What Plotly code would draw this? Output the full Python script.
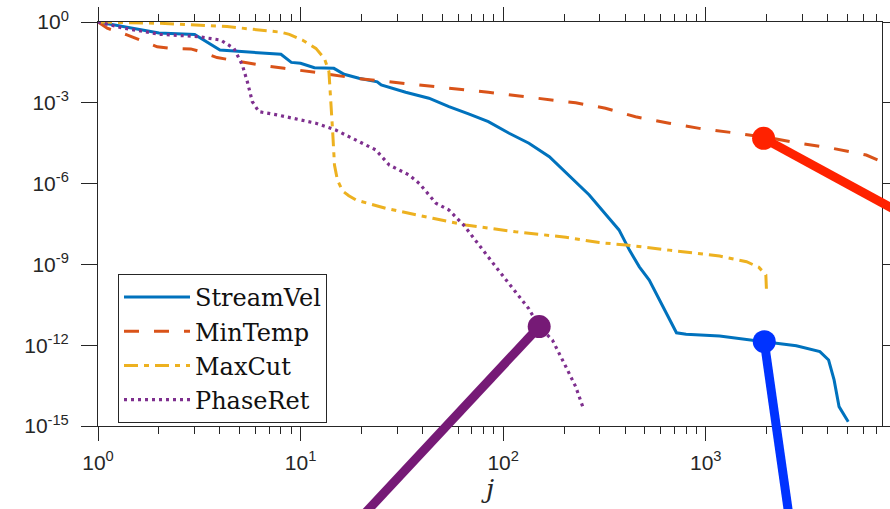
import numpy as np
import plotly.graph_objects as go

# ---------------- data ----------------
stream_x = [1, 2, 3, 4, 8, 9, 10, 11.7, 14.6, 16.4, 19.4, 23.9, 25, 33, 43, 54, 68, 84.5,
            107, 134, 169, 211, 266, 333, 373, 420, 470, 526, 590, 717, 800, 1170, 1945,
            2800, 3660, 4040, 4300, 4550, 5050]
stream_log10y = [0, -0.41, -0.46, -1.04, -1.2, -1.5, -1.53, -1.70, -1.72, -1.94, -2.09, -2.22,
                 -2.34, -2.61, -2.83, -3.14, -3.42, -3.70, -4.13, -4.5, -5.0, -5.68, -6.42,
                 -7.29, -7.72, -8.47, -9.09, -9.58, -10.32, -11.54, -11.59, -11.66, -11.87,
                 -12.02, -12.24, -12.55, -13.29, -14.28, -14.84]

mintemp_x = [1, 1.11, 1.39, 1.62, 1.96, 2.28, 2.87, 3.2, 3.87, 4.86, 6.35, 8.3, 11.9, 18.8,
             27.4, 39.9, 58.5, 84.5, 120, 228, 320, 450, 660, 930, 1360, 1990, 2900, 4230,
             6200, 7600]
mintemp_log10y = [0, -0.23, -0.48, -0.67, -0.92, -0.98, -1.0, -1.1, -1.32, -1.45, -1.6, -1.72,
                  -1.87, -2.09, -2.22, -2.34, -2.46, -2.61, -2.75, -3.0, -3.2, -3.52, -3.76,
                  -3.95, -4.11, -4.28, -4.5, -4.69, -4.94, -5.22]

maxcut_x = [1, 2.04, 4.34, 6.35, 8, 8.8, 10.2, 11.9, 13.1, 13.8, 14.1, 14.4, 14.7, 15.2, 16.1,
            17.3, 18.8, 26.4, 44.9, 65.4, 115, 204, 298, 403, 660, 930, 1170, 1590, 1830,
            1980, 1995]
maxcut_log10y = [0, -0.05, -0.17, -0.3, -0.38, -0.46, -0.67, -0.98, -1.35, -1.84, -2.83, -4.07,
                 -5.31, -5.87, -6.27, -6.45, -6.61, -6.92, -7.29, -7.54, -7.79, -7.99, -8.19,
                 -8.28, -8.47, -8.61, -8.69, -8.9, -9.11, -9.39, -10.01]

phaseret_x = [1, 1.34, 2.04, 3.09, 4.03, 4.69, 5.16, 5.46, 5.78, 6.23, 7.69, 9.3, 11.9, 14.9,
              18.8, 23.5, 27.4, 34.3, 38.6, 46.6, 54, 64, 92, 134, 150, 175, 204, 228, 247]
phaseret_log10y = [0, -0.23, -0.46, -0.54, -0.67, -0.98, -1.6, -2.22, -2.96, -3.33, -3.45,
                   -3.58, -3.76, -4.01, -4.38, -4.75, -5.31, -5.68, -6.0, -6.73, -6.98, -7.55,
                   -9.09, -10.65, -11.3, -11.81, -12.8, -13.54, -14.28]

# thick rate lines drawn over the figure (start point with dot, end far outside)
red_x = [1930, 20000]
red_log10y = [-4.32, -8.47]
blue_x = [1945, 3440]
blue_log10y = [-11.87, -25.0]
purple_x = [150.6, 10]
purple_log10y = [-11.31, -20.8]

series_names = ["StreamVel", "MinTemp", "MaxCut", "PhaseRet"]
x_tickvals = [1, 10, 100, 1000]
x_ticktext = ["10<sup>0</sup>", "10<sup>1</sup>", "10<sup>2</sup>", "10<sup>3</sup>"]
y_exponents = [0, -3, -6, -9, -12, -15]

# ---------------- layout geometry ----------------
W, H = 890, 509
L, R, T, B = 98, 882, 22, 426
x_range = [0, 3.87]
y_range = [-15, 0]
ppdx = (R - L) / (x_range[1] - x_range[0])
ppdy = (B - T) / (y_range[1] - y_range[0])
x2_range = [x_range[0] - L / ppdx, x_range[1] + (W - R) / ppdx]
y2_range = [y_range[0] - (H - B) / ppdy, y_range[1] + T / ppdy]

def pw(a):
    return list(10.0 ** np.array(a, dtype=float))

fig = go.Figure()
styles = [
    ("#0072BD", "solid", 3),
    ("#D95319", "15px,15px", 3),
    ("#EDB120", "14px,6px,5px,6px", 3),
    ("#7E2F8E", "3px,4px", 3.2),
]
data = [(stream_x, stream_log10y), (mintemp_x, mintemp_log10y),
        (maxcut_x, maxcut_log10y), (phaseret_x, phaseret_log10y)]
for (xs, ly), name, (col, dash, w) in zip(data, series_names, styles):
    fig.add_trace(go.Scatter(x=xs, y=pw(ly), mode="lines", name=name,
                             line=dict(color=col, dash=dash, width=w),
                             xaxis="x", yaxis="y"))

for xs, ly, col in [(red_x, red_log10y, "#FF2200"),
                    (blue_x, blue_log10y, "#0033FF"),
                    (purple_x, purple_log10y, "#761A76")]:
    fig.add_trace(go.Scatter(x=xs, y=pw(ly), mode="lines+markers", showlegend=False,
                             line=dict(color=col, width=9),
                             marker=dict(color=col, size=[23, 0], opacity=1,
                                         line=dict(width=0)),
                             xaxis="x2", yaxis="y2", cliponaxis=False))

axcol = "#262626"
tickfont = dict(family="Liberation Sans", size=21, color=axcol)
fig.update_layout(
    width=W, height=H,
    margin=dict(l=0, r=0, t=0, b=0, autoexpand=False),
    paper_bgcolor="white", plot_bgcolor="rgba(0,0,0,0)",
    xaxis=dict(type="log", range=x_range, domain=[L / W, R / W], anchor="y",
               automargin=False,
               showline=True, linecolor=axcol, linewidth=1, mirror="ticks",
               ticks="outside", ticklen=14, tickwidth=1, tickcolor=axcol,
               tickvals=x_tickvals, ticktext=x_ticktext, tickfont=tickfont,
               ticklabelstandoff=4,
               minor=dict(ticks="outside", ticklen=7, tickwidth=1, tickcolor=axcol,
                          dtick="D1", showgrid=False),
               showgrid=False, zeroline=False,
               title=dict(text="<i>j</i>", standoff=4,
                          font=dict(family="DejaVu Serif", size=26, color=axcol))),
    yaxis=dict(type="log", range=y_range, domain=[1 - B / H, 1 - T / H], anchor="x",
               automargin=False,
               showline=True, linecolor=axcol, linewidth=1, mirror="ticks",
               ticks="outside", ticklen=16, tickwidth=1, tickcolor=axcol,
               tickvals=[10.0 ** e for e in y_exponents],
               ticktext=["10<sup>%d</sup>" % e for e in y_exponents],
               tickfont=tickfont, ticklabelstandoff=8,
               showgrid=False, zeroline=False),
    xaxis2=dict(type="log", range=x2_range, domain=[0, 1], anchor="y2", visible=False,
                automargin=False, showgrid=False, zeroline=False),
    yaxis2=dict(type="log", range=y2_range, domain=[0, 1], anchor="x2", visible=False,
                automargin=False, showgrid=False, zeroline=False),
    legend=dict(x=118 / W, y=1 - 274 / H, xanchor="left", yanchor="top",
                bgcolor="white", bordercolor=axcol, borderwidth=1,
                font=dict(family="DejaVu Serif", size=24, color="#111111"),
                itemwidth=66, tracegroupgap=0),
    showlegend=True,
)

fig.write_html("out.html", config={"displayModeBar": False},
               post_script="document.body.style.margin='0';document.body.style.padding='0';")
